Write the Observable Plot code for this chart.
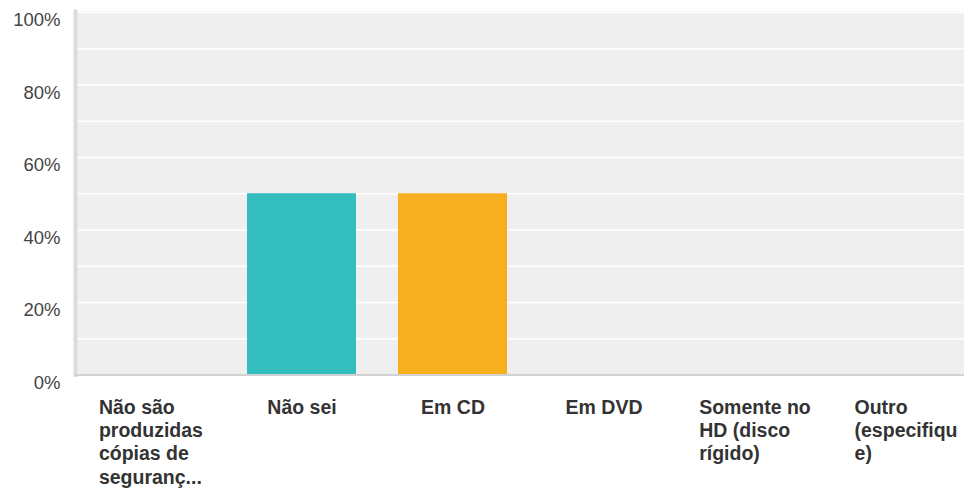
<!DOCTYPE html>
<html>
<head>
<meta charset="utf-8">
<script src="https://cdn.jsdelivr.net/npm/d3@7"></script>
<script src="https://cdn.jsdelivr.net/npm/@observablehq/plot@0.6"></script>
<style>
  html, body { margin: 0; padding: 0; background: #fff; }
</style>
</head>
<body>
<div id="chart"></div>
<script>
const categories = [
  "Não são produzidas cópias de seguranç...",
  "Não sei",
  "Em CD",
  "Em DVD",
  "Somente no HD (disco rígido)",
  "Outro (especifique)"
];
const tickLabels = [
  "Não são\nproduzidas\ncópias de\nseguranç...",
  "Não sei",
  "Em CD",
  "Em DVD",
  "Somente no\nHD (disco\nrígido)",
  "Outro\n(especifiqu\ne)"
];
const values = [0, 50, 50, 0, 0, 0];
const yTicks = [0, 20, 40, 60, 80, 100];
const gridTicks = [10, 20, 30, 40, 50, 60, 70, 80, 90, 100];
const palette = ["#6e87c6", "#33bdbd", "#f7af1f", "#8fb05b", "#e05e5e", "#9b7bc4"];

const data = categories.map((c, i) => ({category: c, value: values[i], label: tickLabels[i]}));

const chart = Plot.plot({
  width: 964,
  height: 489,
  marginTop: 12,
  marginBottom: 114.5,
  marginLeft: 75,
  marginRight: 0,
  style: {fontFamily: "'Liberation Sans', Arial, Helvetica, sans-serif", background: "#fff"},
  x: {domain: categories, range: [75, 981], paddingInner: 0.28, paddingOuter: 0.14, axis: null},
  y: {domain: [0, 100], label: null},
  color: {domain: categories, range: palette},
  marks: [
    Plot.frame({fill: "#efefef", stroke: null, insetTop: -1}),
    Plot.gridY(gridTicks, {stroke: "#ffffff", strokeOpacity: 1, strokeWidth: 1.6}),
    Plot.barY(data, {x: "category", y: "value", fill: "category"}),
    Plot.frame({anchor: "left", stroke: "#dcdcdc", strokeWidth: 4, insetTop: -1}),
    Plot.frame({anchor: "bottom", stroke: "#d2d2d2", strokeWidth: 2}),
    Plot.axisY(yTicks, {
      tickSize: 0, tickPadding: 15, dy: 8, label: null,
      tickFormat: d => d + "%",
      fontSize: 18.5, fill: "#444"
    }),
    Plot.text(data, {
      x: "category", text: "label", frameAnchor: "bottom",
      lineAnchor: "top", dy: 22, lineHeight: 1.2,
      textAnchor: "start", fontSize: 19.5, fontWeight: "bold", fill: "#333"
    })
  ]
});

document.getElementById("chart").appendChild(chart);

// center each multi-line label block on its band while keeping lines left-aligned
const flat = new Set(tickLabels.map(s => s.replace(/\n/g, "")));
chart.querySelectorAll("text").forEach(t => {
  if (!flat.has(t.textContent)) return;
  const w = t.getBBox().width;
  const tr = t.getAttribute("transform") || "";
  t.setAttribute("transform", tr + ` translate(${-w / 2},0)`);
});
</script>
</body>
</html>
